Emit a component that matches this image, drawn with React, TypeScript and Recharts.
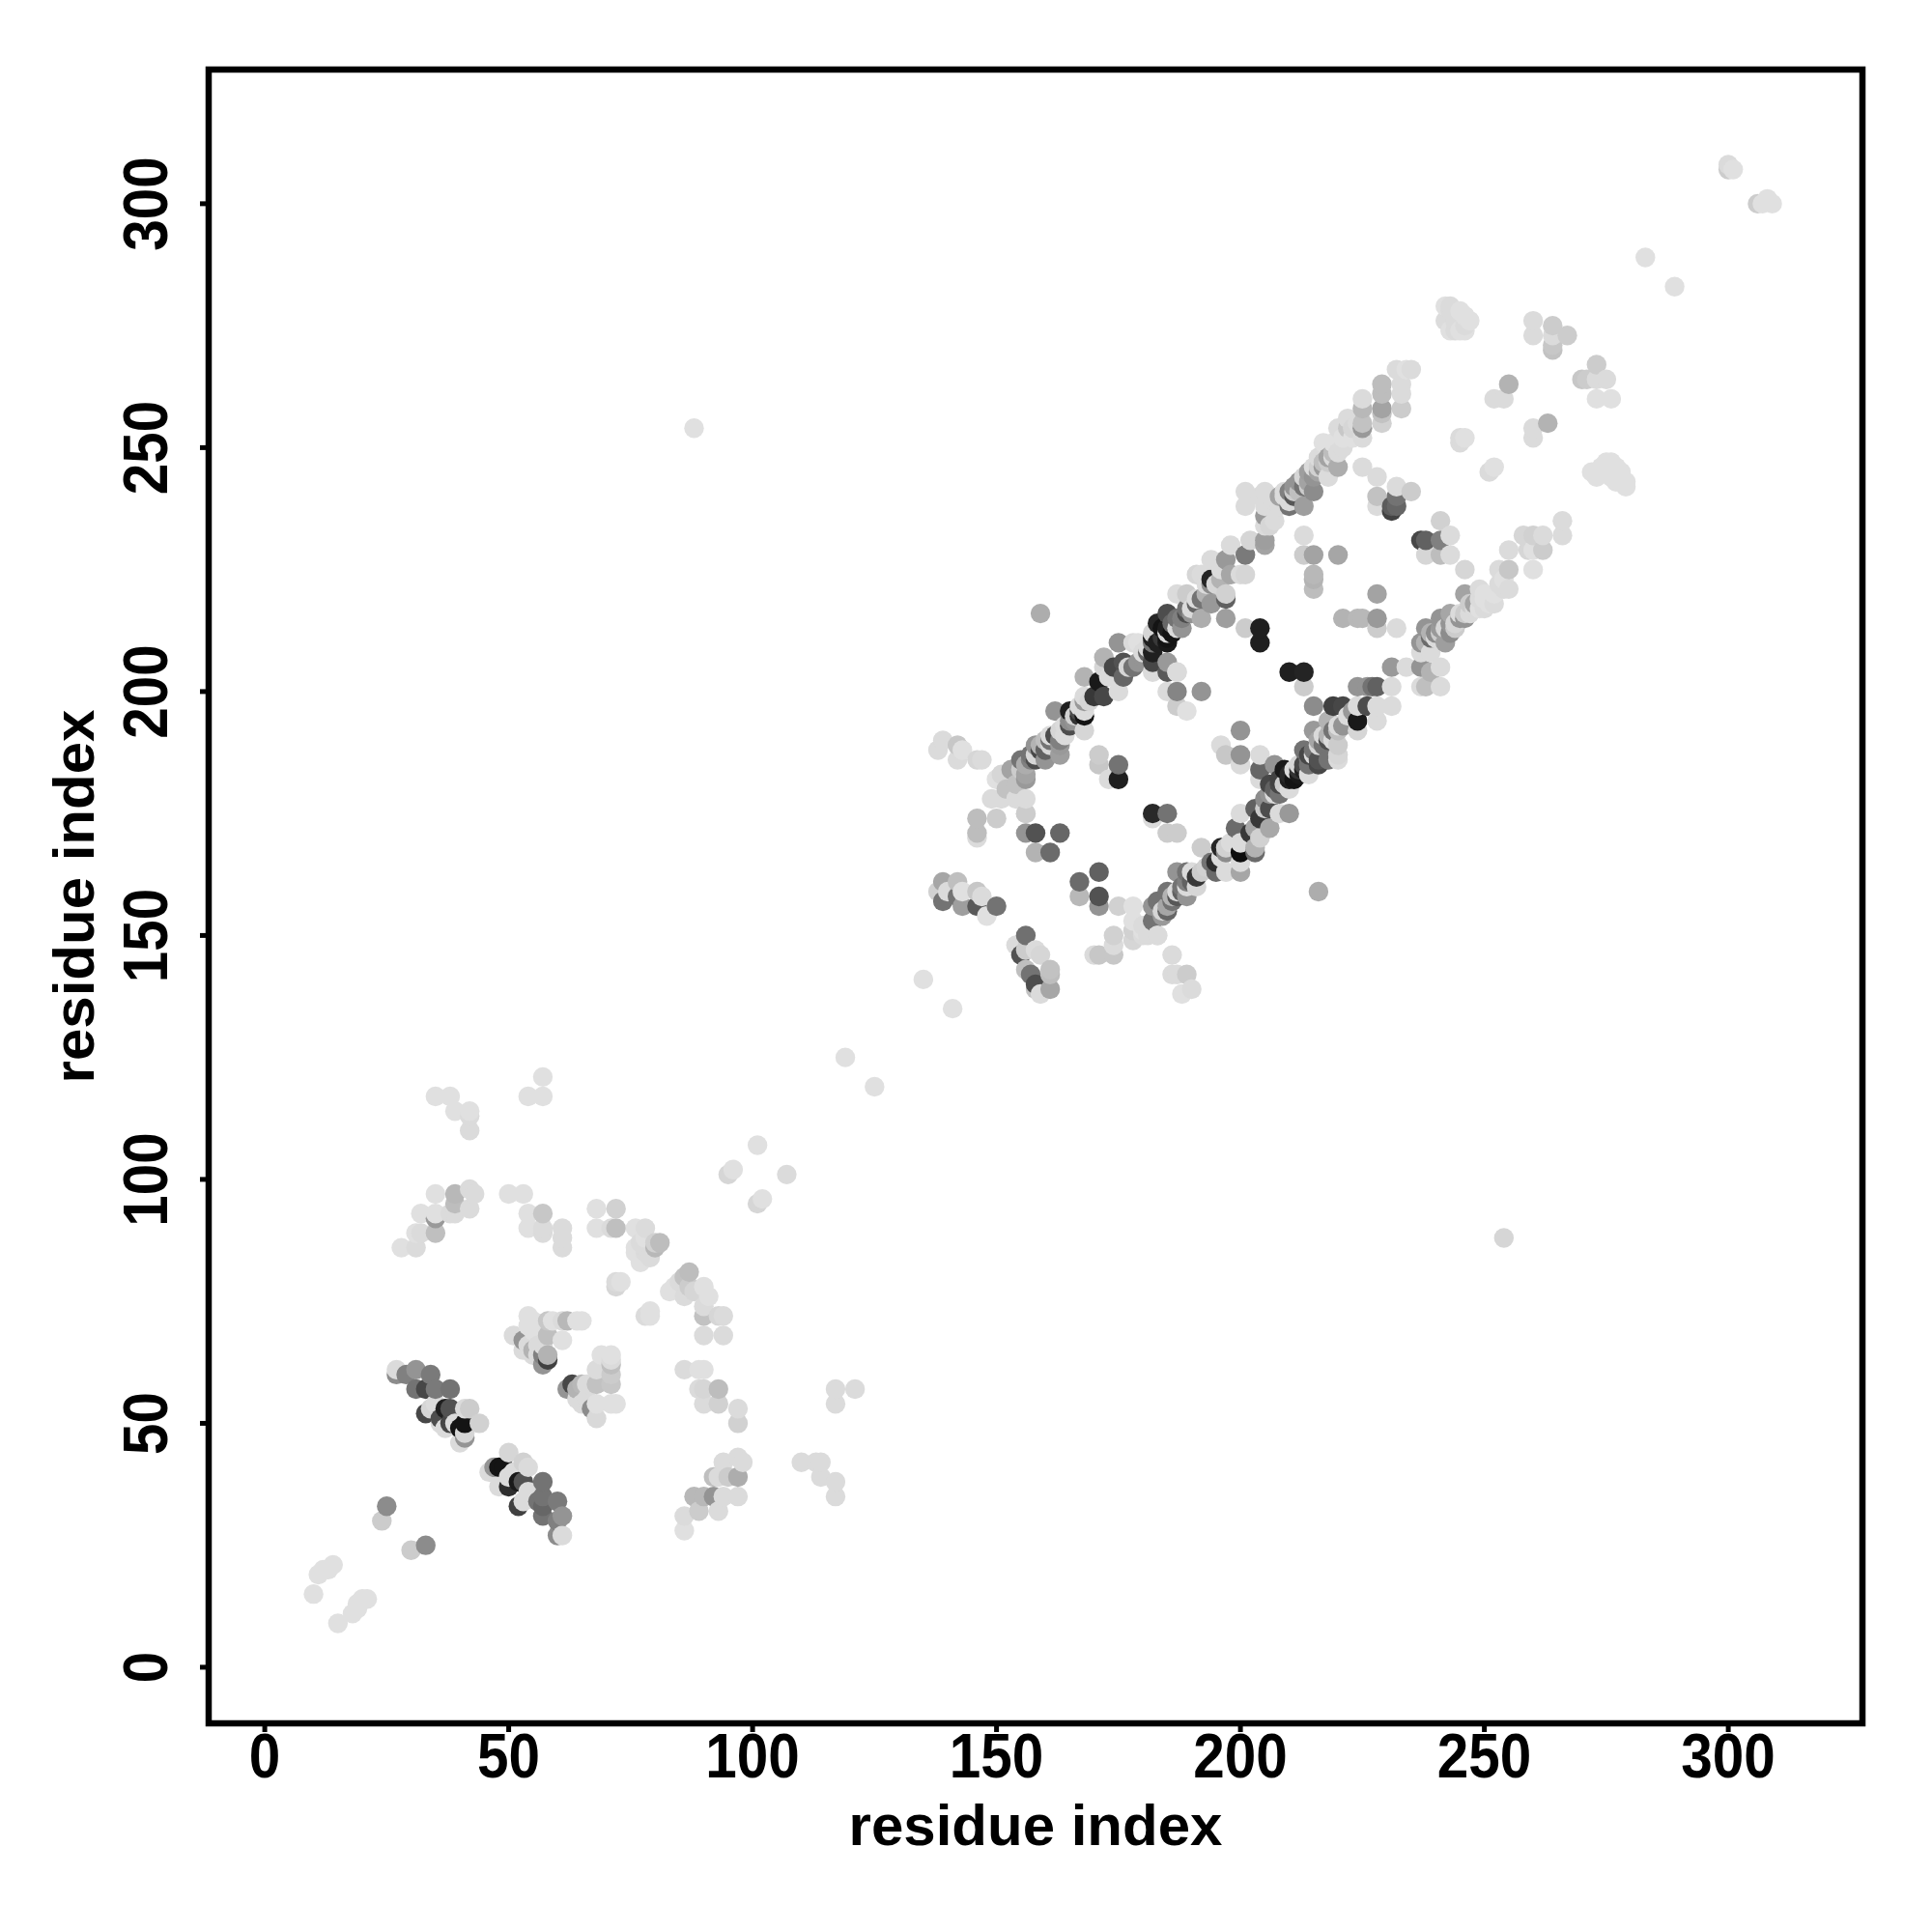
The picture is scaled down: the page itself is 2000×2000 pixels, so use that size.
import { Label, ReferenceArea, Scatter, ScatterChart, XAxis, YAxis } from "recharts";

type Contact = [number, number, number];

const axisTicks = [0, 50, 100, 150, 200, 250, 300];
const axisMin = -11.5;
const axisMax = 327.5;

// [residue i, residue j, contact score]
const termini: Contact[] = [
  [10, 15, 0.12], [11, 19, 0.12], [12, 20, 0.12], [13, 20, 0.12], [14, 21, 0.12], [15, 9, 0.12],
  [18, 11, 0.12], [19, 12, 0.12], [19, 13, 0.12], [20, 14, 0.12], [21, 14, 0.12],
  [24, 30, 0.2], [25, 33, 0.45], [30, 24, 0.2], [33, 25, 0.45],
  [300, 307, 0.2], [300, 308, 0.14], [301, 307, 0.12], [306, 300, 0.2], [307, 300, 0.12], [308, 301, 0.12], [309, 300, 0.12],
  [283, 289, 0.12], [289, 283, 0.12], [88, 254, 0.12], [254, 88, 0.16], [119, 125, 0.12], [125, 119, 0.12],
  [135, 141, 0.12], [141, 135, 0.12],
];

const strandA: Contact[] = [
  [27, 60, 0.45], [27, 61, 0.14], [29, 60, 0.5], [31, 61, 0.42], [31, 57, 0.55], [33, 57, 0.72], [34, 60, 0.52], [35, 57, 0.52], [38, 57, 0.55],
  [33, 52, 0.72], [34, 53, 0.16], [35, 54, 0.14], [36, 50, 0.14], [36, 51, 0.7], [37, 53, 0.88], [38, 53, 0.68], [41, 53, 0.14], [42, 53, 0.2],
  [37, 49, 0.14], [38, 50, 0.72], [39, 50, 0.14], [40, 49, 0.92], [41, 50, 0.92], [44, 50, 0.18], [41, 47, 0.42], [40, 46, 0.14], [41, 48, 0.16],
  [46, 40, 0.14], [47, 41, 0.42], [48, 41, 0.92], [49, 41, 0.92], [50, 44, 0.16], [51, 40, 0.14], [53, 42, 0.18], [54, 41, 0.14],
  [48, 37, 0.14], [50, 37, 0.82], [50, 39, 0.14], [52, 38, 0.9], [53, 38, 0.68], [54, 36, 0.14], [57, 38, 0.55],
  [52, 33, 0.75], [53, 34, 0.14], [56, 34, 0.55], [57, 35, 0.55], [57, 33, 0.6], [60, 34, 0.52], [57, 31, 0.55], [60, 30, 0.5], [61, 31, 0.42], [60, 27, 0.45], [61, 27, 0.14],
];

const lowerPatches: Contact[] = [
  [51, 68, 0.14], [54, 72, 0.12], [54, 70, 0.12], [53, 67, 0.42], [53, 65, 0.14], [54, 66, 0.14], [55, 71, 0.12], [55, 69, 0.12], [55, 65, 0.3], [55, 64, 0.14], [56, 70, 0.12], [56, 66, 0.14], [56, 64, 0.14], [57, 66, 0.14], [57, 62, 0.42], [57, 64, 0.5], [58, 63, 0.75], [58, 64, 0.3],
  [58, 71, 0.22], [58, 68, 0.25], [59, 71, 0.12], [61, 71, 0.14], [61, 67, 0.12], [62, 71, 0.28], [64, 71, 0.12], [65, 71, 0.12],
  [62, 57, 0.42], [63, 58, 0.72], [64, 57, 0.3], [65, 58, 0.28], [64, 55, 0.14], [65, 54, 0.14], [66, 58, 0.14], [66, 55, 0.14], [67, 53, 0.45],
  [68, 61, 0.14], [68, 58, 0.24], [68, 54, 0.12], [68, 51, 0.15], [69, 64, 0.12], [71, 64, 0.12], [71, 63, 0.14], [71, 62, 0.25], [71, 60, 0.2], [71, 58, 0.22], [71, 54, 0.12], [72, 54, 0.12],
  [86, 61, 0.14], [89, 61, 0.12], [90, 61, 0.12], [89, 57, 0.14], [90, 57, 0.16], [93, 57, 0.26], [90, 54, 0.14], [93, 54, 0.18], [97, 53, 0.14], [97, 50, 0.18],
  [93, 39, 0.14], [92, 39, 0.25], [94, 42, 0.14], [95, 39, 0.2], [97, 39, 0.32], [97, 43, 0.14], [98, 42, 0.14],
  [88, 35, 0.28], [90, 35, 0.28], [92, 35, 0.42], [94, 35, 0.14], [97, 35, 0.14], [89, 32, 0.2], [93, 32, 0.14], [86, 31, 0.14], [86, 28, 0.12],
  [110, 42, 0.14], [113, 42, 0.14], [114, 42, 0.14], [114, 39, 0.14], [117, 38, 0.14], [117, 35, 0.14], [117, 57, 0.14], [117, 54, 0.14], [121, 57, 0.14],
];

const upperPatches: Contact[] = [
  [28, 86, 0.12], [31, 86, 0.14], [31, 89, 0.12], [32, 89, 0.14], [32, 93, 0.12], [35, 89, 0.25], [35, 92, 0.4], [35, 93, 0.12], [35, 97, 0.12],
  [38, 93, 0.14], [39, 93, 0.14], [39, 95, 0.26], [39, 97, 0.28], [42, 94, 0.14], [42, 98, 0.14], [43, 97, 0.14],
  [35, 117, 0.12], [38, 117, 0.12], [39, 114, 0.12], [42, 114, 0.12], [42, 113, 0.14], [42, 110, 0.14], [54, 117, 0.12], [57, 117, 0.12], [57, 121, 0.12],
  [50, 97, 0.12], [53, 97, 0.12], [54, 93, 0.12], [57, 93, 0.22], [54, 90, 0.12], [57, 90, 0.14], [57, 89, 0.14], [61, 90, 0.14], [61, 88, 0.14], [61, 86, 0.14],
  [68, 94, 0.12], [72, 94, 0.18], [68, 90, 0.12], [71, 90, 0.14], [72, 90, 0.25], [76, 90, 0.12], [78, 90, 0.14], [76, 86, 0.12], [77, 87, 0.14], [78, 86, 0.14], [78, 88, 0.12], [80, 87, 0.18], [80, 86, 0.28], [81, 87, 0.26],
  [76, 85, 0.12], [77, 83, 0.12], [78, 85, 0.14], [79, 84, 0.14], [72, 79, 0.14], [72, 78, 0.16], [73, 79, 0.12], [78, 72, 0.14], [79, 72, 0.12], [79, 73, 0.12],
  [83, 77, 0.12], [84, 78, 0.12], [85, 79, 0.14], [86, 80, 0.24], [86, 76, 0.14], [87, 81, 0.26], [87, 78, 0.2], [88, 77, 0.16], [90, 78, 0.12], [91, 76, 0.12], [90, 74, 0.14], [90, 72, 0.24], [93, 72, 0.16], [94, 72, 0.14], [90, 68, 0.14], [94, 68, 0.14],
  [95, 101, 0.16], [96, 102, 0.12], [101, 107, 0.12], [107, 101, 0.14], [101, 95, 0.16], [102, 96, 0.12],
];

const patchesNearBand: Contact[] = [
  [139, 190, 0.14], [138, 188, 0.14], [142, 189, 0.22], [142, 186, 0.14], [143, 188, 0.12], [146, 186, 0.16], [147, 186, 0.14],
  [139, 161, 0.35], [138, 159, 0.18], [139, 157, 0.55], [140, 159, 0.14], [142, 161, 0.25], [142, 158, 0.55], [143, 156, 0.38], [143, 159, 0.12], [146, 159, 0.22], [147, 158, 0.14], [146, 156, 0.65], [148, 154, 0.12], [150, 156, 0.55],
  [146, 174, 0.26], [146, 171, 0.26], [146, 170, 0.14], [150, 174, 0.2], [156, 175, 0.2], [156, 171, 0.42], [158, 171, 0.68], [163, 171, 0.6], [158, 167, 0.3], [161, 167, 0.58],
  [154, 148, 0.14], [156, 150, 0.56], [156, 147, 0.2], [158, 147, 0.14], [155, 146, 0.68], [159, 146, 0.16], [156, 143, 0.25], [157, 142, 0.55], [161, 143, 0.24], [161, 142, 0.26], [158, 140, 0.7], [158, 139, 0.24], [159, 138, 0.14], [161, 139, 0.35],
  [167, 161, 0.58], [167, 158, 0.28], [171, 163, 0.62], [171, 158, 0.68], [171, 156, 0.42], [175, 156, 0.18],
  [170, 146, 0.14], [171, 146, 0.22], [174, 150, 0.18], [174, 148, 0.14], [174, 146, 0.22],
  [178, 156, 0.12], [178, 153, 0.12], [178, 151, 0.18], [178, 149, 0.16], [180, 151, 0.12], [183, 150, 0.14],
  [186, 146, 0.14], [186, 142, 0.14], [187, 142, 0.14], [189, 142, 0.2], [188, 138, 0.12], [190, 139, 0.14],
  [171, 187, 0.2], [171, 185, 0.22], [173, 182, 0.14], [175, 185, 0.55], [175, 182, 0.88],
  [182, 175, 0.84], [182, 174, 0.14], [185, 175, 0.55], [185, 171, 0.2], [187, 171, 0.2],
  [196, 189, 0.14], [197, 187, 0.22], [200, 192, 0.42], [200, 187, 0.42], [200, 185, 0.14], [204, 187, 0.14], [204, 184, 0.6], [204, 182, 0.14], [207, 185, 0.42],
  [159, 216, 0.32], [192, 200, 0.42], [187, 204, 0.14], [187, 200, 0.48], [185, 200, 0.14], [187, 197, 0.2], [189, 196, 0.12], [192, 215, 0.32], [197, 215, 0.38],
  [201, 213, 0.2], [204, 213, 0.88], [204, 210, 0.88], [210, 204, 0.88], [213, 204, 0.86], [213, 201, 0.2], [215, 197, 0.45], [216, 159, 0.32], [210, 175, 0.4],
  [213, 232, 0.14], [213, 228, 0.2], [215, 228, 0.36], [220, 228, 0.35], [215, 224, 0.28], [215, 223, 0.3], [215, 221, 0.26],
  [221, 215, 0.3], [224, 215, 0.28], [225, 215, 0.28], [228, 220, 0.36], [228, 215, 0.4], [228, 213, 0.2], [232, 213, 0.14],
  [225, 246, 0.14], [228, 244, 0.14], [228, 240, 0.24], [228, 238, 0.14], [232, 242, 0.14], [232, 240, 0.55], [232, 238, 0.6], [231, 237, 0.74], [231, 238, 0.64], [235, 241, 0.2],
  [237, 231, 0.72], [238, 231, 0.62], [238, 228, 0.16], [241, 235, 0.18], [241, 231, 0.5], [241, 228, 0.26], [243, 232, 0.14], [243, 228, 0.14], [246, 225, 0.16],
  [242, 279, 0.12], [243, 279, 0.14], [243, 278, 0.14], [244, 276, 0.14], [245, 278, 0.12], [246, 277, 0.12], [247, 276, 0.12], [242, 276, 0.14], [243, 274, 0.12], [244, 274, 0.14], [245, 274, 0.12], [246, 274, 0.12], [246, 275, 0.14],
  [260, 276, 0.14], [260, 273, 0.14], [264, 275, 0.2], [264, 273, 0.14], [264, 271, 0.22], [264, 270, 0.24], [267, 273, 0.2],
  [270, 264, 0.22], [271, 264, 0.2], [273, 267, 0.2], [273, 264, 0.14], [275, 264, 0.14], [273, 260, 0.12], [276, 260, 0.12],
  [252, 260, 0.14], [254, 260, 0.14], [255, 263, 0.3], [260, 254, 0.14], [260, 252, 0.14], [263, 255, 0.3],
  [245, 252, 0.14], [245, 251, 0.14], [246, 252, 0.12], [251, 245, 0.14], [252, 246, 0.12],
  [272, 245, 0.12], [273, 244, 0.12], [274, 246, 0.12], [275, 247, 0.12], [276, 247, 0.12], [276, 244, 0.12], [277, 246, 0.12], [277, 244, 0.12], [278, 245, 0.12], [278, 243, 0.12], [279, 243, 0.12], [277, 243, 0.12], [275, 245, 0.12], [279, 242, 0.12],
];

const upperBand: Contact[] = [
  [149, 178, 0.14], [150, 182, 0.12], [151, 178, 0.14], [151, 183, 0.16], [152, 180, 0.24], [153, 184, 0.36], [154, 178, 0.14], [154, 181, 0.24], [155, 186, 0.55], [156, 178, 0.14], [156, 183, 0.36], [156, 182, 0.4], [156, 175, 0.2],
  [157, 187, 0.55], [158, 189, 0.42], [158, 186, 0.7], [159, 188, 0.72], [160, 190, 0.25], [160, 186, 0.42], [161, 191, 0.14], [162, 191, 0.7], [162, 196, 0.42], [163, 192, 0.16], [163, 189, 0.4], [163, 187, 0.38],
  [164, 191, 0.14], [165, 196, 0.88], [165, 193, 0.7], [166, 194, 0.42], [167, 195, 0.8], [168, 196, 0.14], [168, 195, 0.92], [168, 192, 0.16], [168, 199, 0.14], [168, 203, 0.3], [168, 198, 0.4],
  [170, 199, 0.78], [171, 202, 0.9], [172, 207, 0.3], [172, 205, 0.16], [172, 199, 0.72], [173, 203, 0.14], [174, 205, 0.72], [175, 210, 0.42], [175, 200, 0.14], [176, 206, 0.68], [176, 203, 0.6],
  [178, 210, 0.14], [179, 206, 0.42], [179, 210, 0.12], [180, 207, 0.42], [181, 208, 0.6], [182, 212, 0.16], [182, 211, 0.88], [182, 208, 0.88], [182, 206, 0.72], [182, 204, 0.14], [183, 214, 0.85],
  [184, 213, 0.92], [185, 216, 0.7], [185, 211, 0.92], [185, 210, 0.9], [185, 206, 0.4], [185, 204, 0.65], [186, 212, 0.92], [187, 220, 0.14], [187, 215, 0.55], [187, 204, 0.14], [188, 213, 0.42],
  [189, 220, 0.2], [189, 217, 0.55], [191, 224, 0.16], [191, 218, 0.6], [192, 224, 0.14], [194, 227, 0.14], [194, 223, 0.86], [194, 222, 0.45], [194, 218, 0.4], [197, 227, 0.4], [197, 220, 0.18], [197, 219, 0.62],
  [198, 230, 0.14], [198, 224, 0.35], [200, 224, 0.14], [201, 228, 0.52], [201, 224, 0.16], [201, 241, 0.14], [201, 238, 0.14], [202, 231, 0.16], [204, 240, 0.14], [205, 241, 0.14], [205, 238, 0.14], [205, 236, 0.4], [205, 234, 0.14], [205, 231, 0.38], [205, 230, 0.36], [206, 240, 0.14],
  [206, 234, 0.16], [207, 235, 0.14], [208, 238, 0.14], [209, 240, 0.14], [210, 238, 0.55], [210, 241, 0.5], [211, 240, 0.66], [212, 243, 0.42], [213, 238, 0.38], [213, 242, 0.55], [214, 245, 0.38], [215, 241, 0.45], [215, 244, 0.42],
  [216, 248, 0.14], [217, 247, 0.25], [217, 251, 0.12], [218, 244, 0.14], [219, 251, 0.12], [220, 249, 0.14], [220, 246, 0.32], [220, 254, 0.14], [222, 256, 0.14], [222, 254, 0.22],
  [225, 260, 0.14], [225, 258, 0.28], [225, 255, 0.24], [225, 254, 0.4], [225, 252, 0.14], [229, 263, 0.26], [229, 261, 0.26], [229, 258, 0.36], [229, 257, 0.24], [229, 255, 0.18], [232, 266, 0.14], [233, 263, 0.14], [233, 261, 0.14], [233, 258, 0.2], [234, 266, 0.12], [235, 266, 0.14],
];

// the crowded runs of the upper band, read between the points above
const upperBandRuns: Contact[] = [
  [155, 184, 0.2], [156, 185, 0.32], [157, 186, 0.5], [158, 187, 0.16], [159, 189, 0.3], [160, 188, 0.62], [161, 189, 0.16], [161, 190, 0.55], [163, 190, 0.5], [164, 193, 0.14], [165, 194, 0.45], [166, 195, 0.18], [167, 197, 0.14], [167, 196, 0.7], [169, 198, 0.16],
  [177, 205, 0.16], [178, 205, 0.55], [180, 208, 0.14], [181, 209, 0.14], [182, 210, 0.55], [183, 210, 0.88], [184, 211, 0.78], [185, 212, 0.14], [185, 213, 0.88], [186, 214, 0.6], [187, 213, 0.14], [188, 215, 0.5], [189, 216, 0.7], [190, 217, 0.14], [190, 216, 0.42], [191, 219, 0.14], [192, 219, 0.55], [193, 220, 0.3], [193, 222, 0.14], [195, 222, 0.16], [196, 223, 0.3], [196, 225, 0.14],
  [207, 239, 0.14], [208, 240, 0.36], [209, 241, 0.14], [210, 239, 0.14], [211, 241, 0.2], [211, 242, 0.42], [212, 241, 0.25], [213, 244, 0.16], [214, 243, 0.36], [214, 242, 0.2], [215, 246, 0.14], [216, 245, 0.36], [216, 246, 0.18], [217, 246, 0.4], [218, 247, 0.2], [218, 248, 0.36], [219, 248, 0.14], [219, 249, 0.26], [221, 250, 0.14], [221, 252, 0.12], [223, 254, 0.16], [223, 252, 0.12], [224, 255, 0.14],
];

const lowerBand: Contact[] = [
  [180, 150, 0.14], [181, 150, 0.14], [180, 152, 0.14], [182, 156, 0.42], [182, 153, 0.55], [183, 157, 0.55], [183, 150, 0.14], [184, 154, 0.4], [185, 159, 0.55], [185, 155, 0.6],
  [186, 158, 0.3], [187, 163, 0.42], [187, 158, 0.66], [188, 160, 0.55], [189, 163, 0.55], [189, 158, 0.42], [191, 162, 0.78], [191, 160, 0.16], [192, 168, 0.2], [192, 163, 0.2],
  [195, 165, 0.82], [195, 163, 0.58], [196, 168, 0.85], [197, 168, 0.18], [197, 163, 0.14], [199, 172, 0.58], [200, 175, 0.14], [200, 169, 0.14], [200, 167, 0.95], [200, 165, 0.14], [200, 163, 0.35],
  [202, 171, 0.78], [203, 176, 0.62], [203, 172, 0.34], [203, 168, 0.3], [203, 167, 0.58], [204, 174, 0.78], [204, 170, 0.18], [206, 176, 0.7], [206, 172, 0.34], [206, 181, 0.72], [206, 179, 0.42], [208, 182, 0.74], [208, 179, 0.55], [208, 175, 0.14],
  [209, 184, 0.9], [210, 180, 0.14], [211, 182, 0.92], [212, 183, 0.9], [213, 188, 0.55], [213, 184, 0.88], [214, 185, 0.55], [214, 183, 0.14], [214, 187, 0.72], [215, 192, 0.4], [216, 185, 0.72], [216, 186, 0.68], [216, 190, 0.35],
  [218, 186, 0.55], [218, 190, 0.7], [218, 194, 0.3], [219, 197, 0.75], [220, 186, 0.14], [220, 192, 0.25], [220, 189, 0.2], [220, 187, 0.16], [221, 197, 0.72], [224, 201, 0.42], [224, 197, 0.14], [224, 194, 0.9], [224, 192, 0.16], [226, 197, 0.7], [226, 201, 0.42], [227, 201, 0.55],
  [228, 201, 0.62], [228, 197, 0.14], [228, 194, 0.14], [231, 205, 0.4], [231, 201, 0.14], [231, 197, 0.14], [234, 205, 0.14], [237, 210, 0.42], [237, 208, 0.14], [237, 205, 0.42], [237, 201, 0.14], [238, 213, 0.42], [238, 201, 0.25], [239, 211, 0.58], [239, 208, 0.14], [239, 204, 0.3],
  [241, 215, 0.42], [241, 205, 0.14], [241, 201, 0.14], [242, 210, 0.38], [243, 216, 0.35], [243, 212, 0.45], [245, 215, 0.42], [246, 220, 0.36], [247, 218, 0.2], [248, 217, 0.14], [249, 221, 0.14], [250, 220, 0.12], [250, 217, 0.14],
  [253, 225, 0.14], [254, 221, 0.14], [255, 229, 0.14], [255, 225, 0.22], [255, 221, 0.14], [258, 232, 0.16], [259, 229, 0.16], [260, 232, 0.18], [260, 229, 0.12], [260, 225, 0.12], [262, 232, 0.14], [262, 229, 0.2], [266, 235, 0.14], [266, 232, 0.14],
];

// the crowded runs of the lower band, read between the points above
const lowerBandRuns: Contact[] = [
  [184, 155, 0.16], [185, 156, 0.35], [186, 157, 0.55], [187, 159, 0.14], [188, 159, 0.62], [189, 160, 0.14], [189, 161, 0.5], [190, 163, 0.14], [190, 161, 0.62], [193, 164, 0.18], [194, 165, 0.55], [196, 166, 0.14], [197, 167, 0.45], [198, 169, 0.14],
  [205, 178, 0.45], [205, 176, 0.2], [207, 180, 0.62], [207, 179, 0.14], [208, 181, 0.72], [209, 181, 0.2], [210, 182, 0.88], [210, 183, 0.84], [211, 184, 0.14], [212, 184, 0.8], [212, 185, 0.16], [213, 185, 0.72], [214, 186, 0.55], [215, 187, 0.14], [215, 188, 0.55], [216, 189, 0.16], [217, 189, 0.55], [217, 191, 0.14], [218, 191, 0.3], [219, 192, 0.55], [219, 190, 0.14], [220, 193, 0.14], [221, 193, 0.42], [222, 195, 0.14], [223, 196, 0.4],
  [238, 210, 0.3], [239, 212, 0.3], [240, 211, 0.14], [240, 212, 0.45], [241, 212, 0.2], [241, 213, 0.4], [242, 213, 0.16], [243, 214, 0.42], [244, 213, 0.2], [244, 214, 0.16], [245, 216, 0.14], [246, 215, 0.42], [246, 216, 0.2], [247, 216, 0.14], [248, 218, 0.36], [249, 219, 0.14], [249, 217, 0.12], [250, 219, 0.12], [251, 218, 0.12], [252, 220, 0.12], [252, 218, 0.14], [253, 222, 0.14], [254, 223, 0.12],
];

const contacts = [
  ...termini,
  ...strandA,
  ...lowerPatches,
  ...upperPatches,
  ...patchesNearBand,
  ...upperBand,
  ...upperBandRuns,
  ...lowerBand,
  ...lowerBandRuns,
]
  .map(([x, y, score]) => ({ x, y, score }))
  .sort((a, b) => a.x - b.x || a.y - b.y);

const greyFor = (score: number) => {
  const level = Math.round(255 * (1 - score));
  return `rgb(${level},${level},${level})`;
};

const font = "'Liberation Sans', Arial, sans-serif";

const ContactDot = (props: any) => (
  <circle cx={props.cx} cy={props.cy} r={10.2} fill={greyFor(props.score)} />
);

// the original digits are narrower than Liberation Sans Bold at this height
const tickTextLength = (value: number) => String(value).length * 32.5;

const XTick = ({ x, payload }: any) => (
  <text
    x={x}
    y={1840}
    textAnchor="middle"
    textLength={tickTextLength(payload.value)}
    lengthAdjust="spacingAndGlyphs"
    fontFamily={font}
    fontWeight="bold"
    fontSize={64}
    fill="#000"
  >
    {payload.value}
  </text>
);

const YTick = ({ y, payload }: any) => (
  <text
    x={173}
    y={y}
    textAnchor="middle"
    transform={`rotate(-90 173 ${y})`}
    textLength={tickTextLength(payload.value)}
    lengthAdjust="spacingAndGlyphs"
    fontFamily={font}
    fontWeight="bold"
    fontSize={64}
    fill="#000"
  >
    {payload.value}
  </text>
);

export default function App() {
  return (
    <div style={{ position: "absolute", left: 0, top: 0, width: 2000, height: 2000, background: "#fff" }}>
      <ScatterChart width={2000} height={2000} margin={{ top: 72, right: 72, bottom: 0, left: 0 }}>
        <XAxis
          type="number"
          dataKey="x"
          domain={[axisMin, axisMax]}
          ticks={axisTicks}
          height={216}
          axisLine={false}
          tickLine={{ stroke: "#000", strokeWidth: 5 }}
          tickSize={9}
          tick={<XTick />}
        >
          <Label
            value="residue index"
            position="insideBottom"
            offset={90}
            fontFamily={font}
            fontWeight="bold"
            fontSize={60}
            fill="#000"
          />
        </XAxis>
        <YAxis
          type="number"
          dataKey="y"
          domain={[axisMin, axisMax]}
          ticks={axisTicks}
          width={216}
          axisLine={false}
          tickLine={{ stroke: "#000", strokeWidth: 5 }}
          tickSize={9}
          tick={<YTick />}
        >
          <Label
            value="residue index"
            angle={-90}
            position="insideLeft"
            offset={76}
            textAnchor="middle"
            fontFamily={font}
            fontWeight="bold"
            fontSize={60}
            fill="#000"
          />
        </YAxis>
        <Scatter data={contacts} shape={<ContactDot />} isAnimationActive={false} />
        <ReferenceArea
          x1={axisMin}
          x2={axisMax}
          y1={axisMin}
          y2={axisMax}
          fill="none"
          stroke="#000"
          strokeWidth={6.5}
          ifOverflow="visible"
        />
      </ScatterChart>
    </div>
  );
}
